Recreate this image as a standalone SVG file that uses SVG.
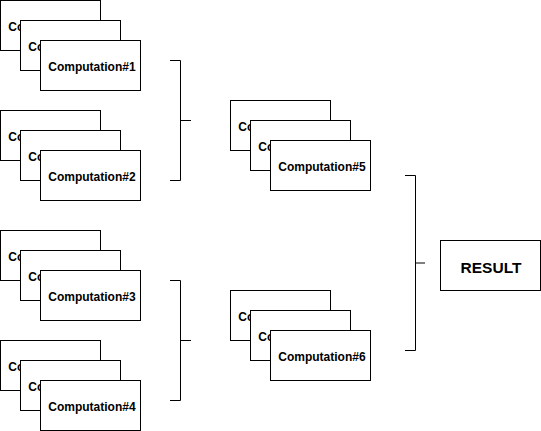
<svg xmlns="http://www.w3.org/2000/svg" width="541" height="431" viewBox="0 0 541 431">
<style>
.box{fill:#fff;stroke:#000;stroke-width:1}
.lbl{font-family:"Liberation Sans",Arial,sans-serif;font-weight:bold;font-size:12px;fill:#000}
.res{font-family:"Liberation Sans",Arial,sans-serif;font-weight:bold;font-size:15.5px;fill:#000}
.br{fill:none;stroke:#000;stroke-width:1}
</style>
<defs>
<g id="stk">
<rect class="box" x="0.5" y="0.5" width="100" height="50"/>
<text class="lbl" x="8.3" y="31">Computation</text>
<rect class="box" x="20.5" y="20.5" width="100" height="50"/>
<text class="lbl" x="28.3" y="51">Computation</text>
<rect class="box" x="40.5" y="40.5" width="100" height="50"/>
</g>
</defs>
<rect width="541" height="431" fill="#fff"/>
<g id="comp1"><use href="#stk" x="0" y="0"/><text class="lbl" x="48.3" y="71">Computation#1</text></g>
<g id="comp2"><use href="#stk" x="0" y="110"/><text class="lbl" x="48.3" y="181">Computation#2</text></g>
<g id="comp3"><use href="#stk" x="0" y="230"/><text class="lbl" x="48.3" y="301">Computation#3</text></g>
<g id="comp4"><use href="#stk" x="0" y="340"/><text class="lbl" x="48.3" y="411">Computation#4</text></g>
<g id="comp5"><use href="#stk" x="230" y="100"/><text class="lbl" x="278.3" y="171">Computation#5</text></g>
<g id="comp6"><use href="#stk" x="230" y="290"/><text class="lbl" x="278.3" y="361">Computation#6</text></g>
<g id="result"><rect class="box" x="440.5" y="240.5" width="100" height="50"/><text class="res" x="491" y="272.7" text-anchor="middle">RESULT</text></g>
<g id="connectors">
<path class="br" d="M170,60.5H180.5V180.5H170M180.5,120.5H191"/>
<path class="br" d="M170,280.5H180.5V400.5H170M180.5,340.5H191"/>
<path class="br" d="M405,175.5H415.5V350.5H405M415.5,263H425"/>
</g>
</svg>
